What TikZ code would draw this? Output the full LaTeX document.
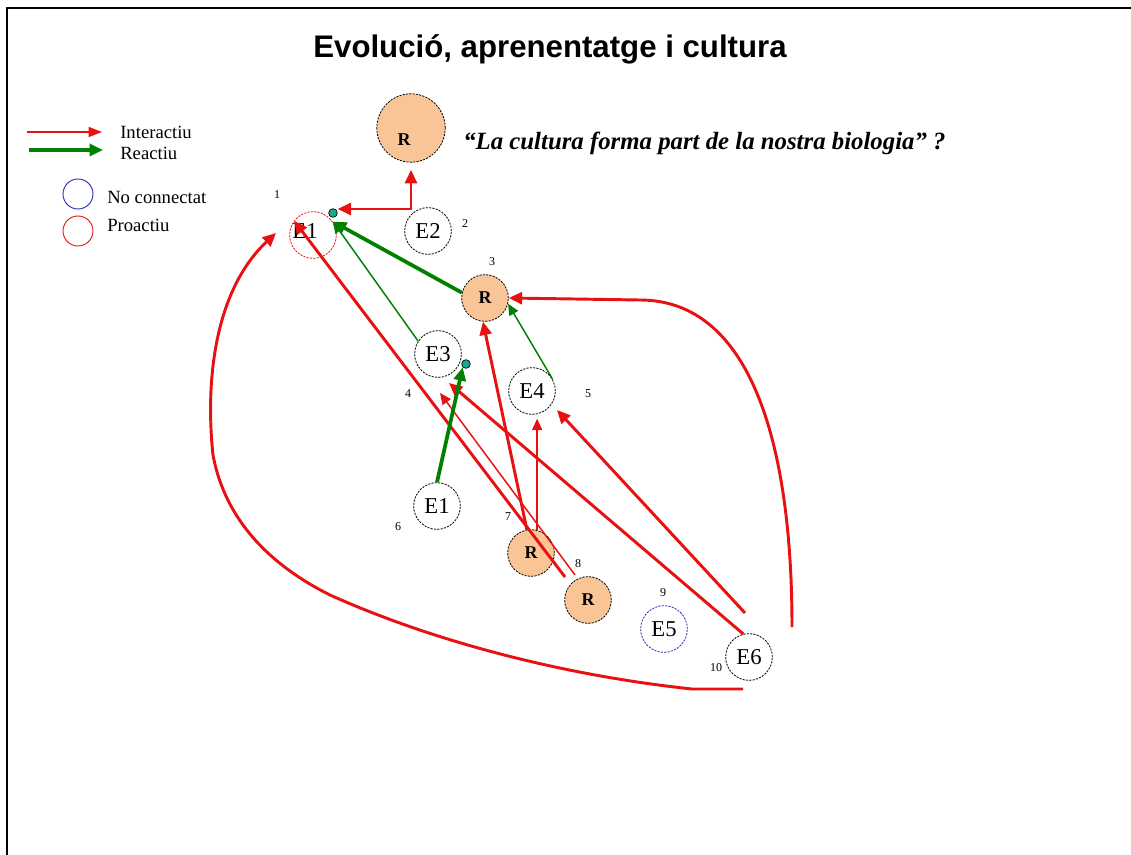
\documentclass[tikz,border=0pt]{standalone}
\usepackage{fontspec}
\setmainfont{Liberation Serif}
\newfontfamily\titlefont{Liberation Sans}
\usetikzlibrary{arrows.meta}
\definecolor{rfill}{RGB}{249,197,150}
\definecolor{redline}{RGB}{232,16,16}
\definecolor{greenline}{RGB}{0,128,0}
\definecolor{tealdot}{RGB}{20,170,140}
\definecolor{blueline}{RGB}{40,40,190}
\pgfdeclarelayer{front}
\pgfsetlayers{main,front}
\begin{document}
\begin{tikzpicture}[x=0.75pt,y=-0.75pt,
  ecirc/.style={circle,draw=black,line width=0.6pt,dash pattern=on 1.6pt off 0.9pt,minimum size=35pt,inner sep=0pt,font=\fontsize{17}{17}\selectfont},
  rcirc/.style={ecirc,fill=rfill,font=\bfseries\fontsize{13.5}{13.5}\selectfont},
  dotn/.style={circle,draw=black,line width=0.5pt,fill=tealdot,minimum size=6.5pt,inner sep=0pt},
  numlab/.style={font=\fontsize{9}{9}\selectfont,inner sep=0pt},
  legtext/.style={font=\fontsize{14}{14}\selectfont,anchor=west,inner sep=0pt},
  redthick/.style={draw=redline,line width=2.2pt},
  redthin/.style={draw=redline,line width=1.1pt},
  greenthick/.style={draw=greenline,line width=2.8pt},
  greenthin/.style={draw=greenline,line width=1.1pt},
  tipbig/.style={-{Triangle[length=10pt,width=9pt]}},
  tipsmall/.style={-{Triangle[length=8.5pt,width=7.5pt]}},
]
\useasboundingbox (0,0) rectangle (1131,855);
% frame
\draw[line width=1.9pt] (7,855) -- (7,8) -- (1131,8);

% title and quote
\node[font=\titlefont\bfseries\fontsize{23.4}{23.4}\selectfont,anchor=base,inner sep=0pt] (title) at (550,58) {Evolució, aprenentatge i cultura};
\node[font=\bfseries\itshape\fontsize{18.6}{18.6}\selectfont,anchor=base west,inner sep=0pt] (quote) at (463,150) {“La cultura forma part de la nostra biologia” ?};

% legend
\coordinate (la1) at (27,132); \coordinate (la2) at (102,132);
\coordinate (lb1) at (29,150); \coordinate (lb2) at (103,150);
\draw[redthin,-{Triangle[length=10pt,width=7.5pt]}] (la1) -- (la2);
\draw[greenthick,-{Triangle[length=10pt,width=9pt]}] (lb1) -- (lb2);
\node[legtext] (tInter) at (120,132) {Interactiu};
\node[legtext] (tReact) at (120,153) {Reactiu};
\node[circle,draw=blueline,line width=0.7pt,minimum size=22.5pt,inner sep=0pt] (lblue) at (78,194) {};
\node[circle,draw=redline,line width=0.7pt,minimum size=22.5pt,inner sep=0pt] (lred) at (78,231) {};
\node[legtext] (tNo) at (107,197) {No connectat};
\node[legtext] (tPro) at (107,225) {Proactiu};

% nodes
\node[rcirc,minimum size=51.3pt,label={[font=\bfseries\fontsize{13.5}{13.5}\selectfont,xshift=-5.2pt,yshift=-8.5pt]center:R}] (Rtop) at (411,128) {};
\node[ecirc,draw=redline,label={[font=\fontsize{17}{17}\selectfont,xshift=-6pt,yshift=3pt]center:E1}] (E1) at (313,235) {};
\node[ecirc] (E2) at (428,231) {E2};
\node[rcirc] (R3) at (485,298) {R};
\node[ecirc] (E3) at (438,354) {E3};
\node[ecirc] (E4) at (532,391) {E4};
\node[ecirc] (E1b) at (437,506) {E1};
\node[rcirc] (R7) at (531,553) {R};
\node[rcirc] (R8) at (588,600) {R};
\node[ecirc,draw=blueline] (E5) at (664,629) {E5};
\node[ecirc] (E6) at (749,657) {E6};

\begin{pgfonlayer}{front}
\node[dotn] (T1) at (333,213) {};
\node[dotn] (T2) at (466,364) {};
\end{pgfonlayer}

% number labels
\node[numlab] (n1) at (277,195) {1};
\node[numlab] (n2) at (465,224) {2};
\node[numlab] (n3) at (492,262) {3};
\node[numlab] (n4) at (408,394) {4};
\node[numlab] (n5) at (588,394) {5};
\node[numlab] (n6) at (398,527) {6};
\node[numlab] (n7) at (508,517) {7};
\node[numlab] (n8) at (578,564) {8};
\node[numlab] (n9) at (663,593) {9};
\node[numlab] (n10) at (716,668) {10};

% free ends
\coordinate (c1) at (276,233);
\coordinate (c4a) at (440,393);
\coordinate (c4b) at (449,383);
\coordinate (c5) at (557,410);
\coordinate (s8a) at (565,577);
\coordinate (s8b) at (575,575);
\coordinate (e6a) at (745,613);
\coordinate (e6b) at (792,627);
\coordinate (e6c) at (743,689);

% connectors
\draw[redthick,{Triangle[length=10pt,width=9pt]}-{Triangle[length=10pt,width=9pt]},shorten >=5.5pt] ([yshift=3pt]T1.east) -| (Rtop.south);
\draw[greenthin,tipsmall] (E3.147) -- ([yshift=-3pt]T1.south);
\draw[greenthick,tipbig] (R3.167) -- ([yshift=-3pt]T1.south);
\draw[redthick,tipbig] (s8a) -- (E1.143);
\draw[redthin,tipsmall] (s8b) -- (c4a);
\draw[redthick,tipbig] (E6.104) -- (c4b);
\draw[redthick,tipbig] (e6a) -- (c5);
\draw[redthick,tipbig] (R7.100) -- (R3.265);
\draw[redthin,tipsmall,shorten >=3pt] (R7.75) -- (R7.75 |- E4.south);
\draw[greenthin,tipsmall] (E4.31) -- (R3.-14);
\draw[greenthick,tipbig] (E1b.north) -- (T2.south west);
\draw[redthick,tipbig] (e6b) .. controls (792,430) and (745,300) .. (640,300) -- (R3.east);
\draw[redthick,tipbig] (e6c) -- (692,689)
  .. controls (560,675) and (430,640) .. (330,595)
  .. controls (270,565) and (225,520) .. (213,455)
  .. controls (205,380) and (215,290) .. (c1);
\end{tikzpicture}
\end{document}
